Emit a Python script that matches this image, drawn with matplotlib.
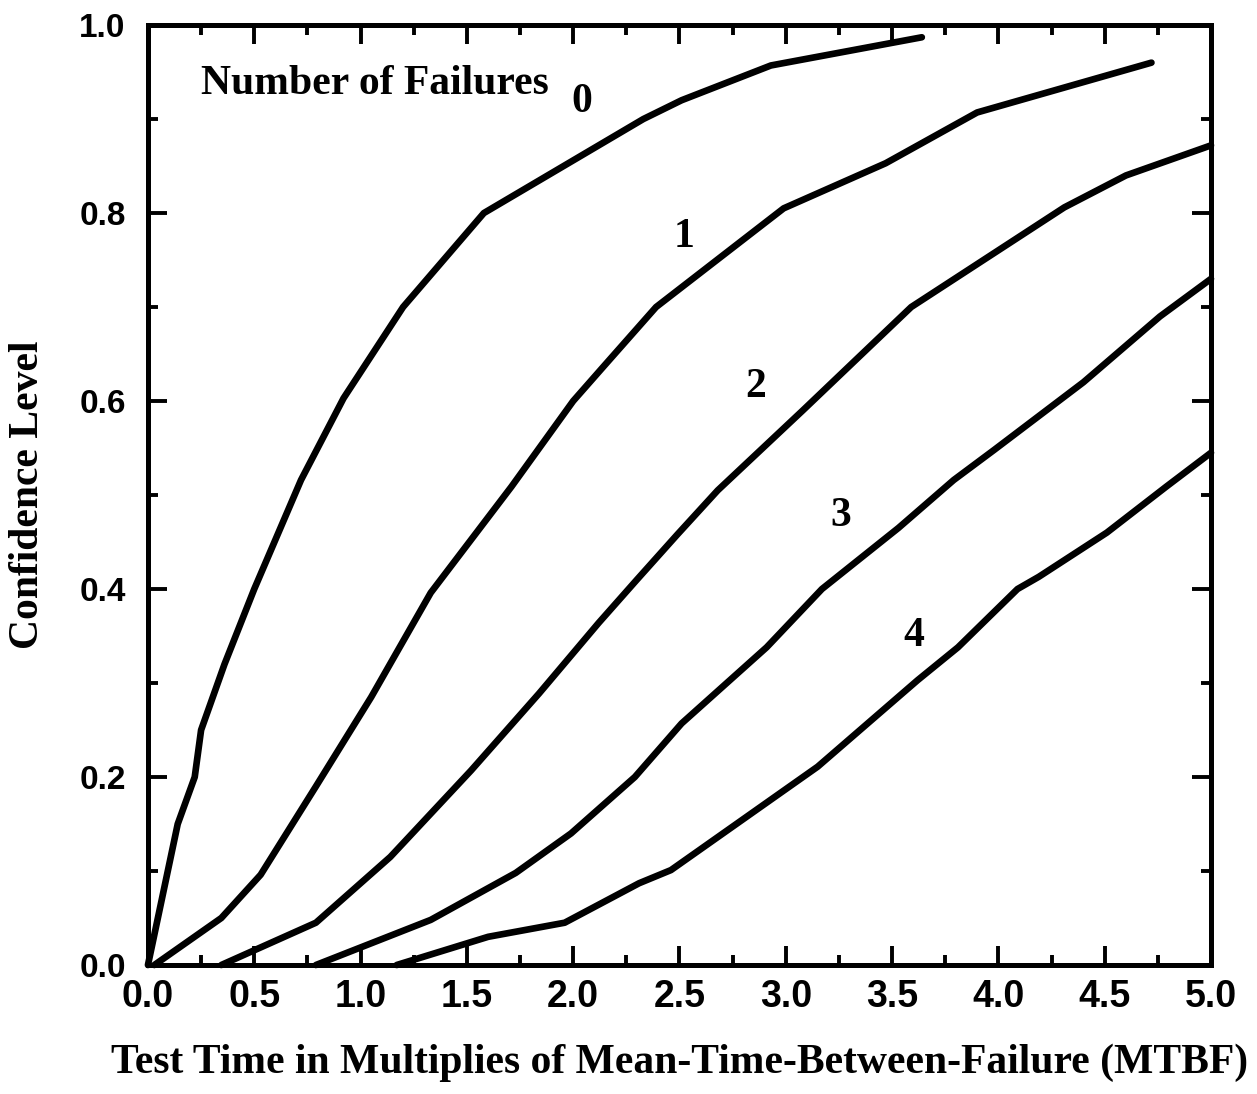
import matplotlib.pyplot as plt
from matplotlib.ticker import MultipleLocator
import numpy as np

# ─── Data ─────────────────────────────────────────────────────────────────────
# test time (multiples of MTBF) vs confidence level, one curve per failure count
t0 = [0.0, 0.14, 0.22, 0.25, 0.36, 0.50, 0.72, 0.92, 1.20, 1.58, 2.33, 2.51, 2.93, 3.64]
c0 = [0.0, 0.15, 0.20, 0.25, 0.32, 0.40, 0.516, 0.603, 0.70, 0.80, 0.90, 0.92, 0.957, 0.987]

t1 = [0.03, 0.345, 0.53, 0.79, 1.05, 1.33, 1.71, 2.00, 2.14, 2.39, 2.99, 3.47, 3.90, 4.72]
c1 = [0.0, 0.05, 0.096, 0.19, 0.285, 0.396, 0.509, 0.60, 0.636, 0.70, 0.805, 0.853, 0.907, 0.96]

t2 = [0.345, 0.79, 1.14, 1.52, 1.84, 2.12, 2.30, 2.49, 2.68, 3.08, 3.59, 4.31, 4.60, 5.0]
c2 = [0.0, 0.045, 0.115, 0.207, 0.289, 0.364, 0.41, 0.458, 0.505, 0.59, 0.70, 0.806, 0.84, 0.872]

t3 = [0.79, 1.33, 1.73, 1.99, 2.29, 2.51, 2.91, 3.17, 3.53, 3.79, 3.98, 4.40, 4.76, 5.0]
c3 = [0.0, 0.048, 0.098, 0.14, 0.20, 0.257, 0.338, 0.40, 0.465, 0.516, 0.548, 0.62, 0.69, 0.73]

t4 = [1.17, 1.60, 1.96, 2.31, 2.46, 3.15, 3.62, 3.81, 4.09, 4.19, 4.51, 4.79, 5.0]
c4 = [0.0, 0.03, 0.045, 0.087, 0.101, 0.211, 0.303, 0.338, 0.40, 0.413, 0.46, 0.509, 0.545]

curve_labels = ["0", "1", "2", "3", "4"]
label_x = [2.04, 2.52, 2.86, 3.26, 3.60]
label_y = [0.918, 0.775, 0.615, 0.478, 0.350]

x_ticks = [0.0, 0.5, 1.0, 1.5, 2.0, 2.5, 3.0, 3.5, 4.0, 4.5, 5.0]
y_ticks = [0.0, 0.2, 0.4, 0.6, 0.8, 1.0]

SERIF = "Liberation Serif"
SANS = "Liberation Sans"


# ─── Plot ─────────────────────────────────────────────────────────────────────
def plot_confidence():
    fig = plt.figure(figsize=(12.57, 10.94), dpi=100)
    ax = fig.add_axes([0.1177, 0.1179, 0.8457, 0.8592])

    for t, c in [(t0, c0), (t1, c1), (t2, c2), (t3, c3), (t4, c4)]:
        ax.plot(t, c, color="black", linewidth=4.8, solid_capstyle="round",
                solid_joinstyle="round", clip_on=False)

    for lab, lx, ly in zip(curve_labels, label_x, label_y):
        ax.text(lx, ly, lab, fontsize=30, fontfamily=SERIF, fontweight="bold",
                ha="center", va="center")

    ax.text(0.25, 0.937, "Number of Failures", fontsize=30, fontfamily=SERIF,
            fontweight="bold", ha="left", va="center")

    ax.set_xlim(0, 5)
    ax.set_ylim(0, 1)
    ax.set_xticks(x_ticks)
    ax.set_yticks(y_ticks)
    ax.set_xticklabels([f"{v:.1f}" for v in x_ticks], fontfamily=SANS,
                       fontweight="bold", fontsize=27)
    ax.set_yticklabels([f"{v:.1f}" for v in y_ticks], fontfamily=SANS,
                       fontweight="bold", fontsize=24)
    ax.xaxis.set_minor_locator(MultipleLocator(0.25))
    ax.yaxis.set_minor_locator(MultipleLocator(0.1))

    ax.tick_params(which="both", direction="in", top=True, right=True,
                   width=2.8, color="black")
    ax.tick_params(which="major", length=14)
    ax.tick_params(which="minor", length=7)
    ax.tick_params(axis="x", which="major", pad=10)
    ax.tick_params(axis="y", which="major", pad=16)

    for side in ax.spines.values():
        side.set_linewidth(3.6)

    ax.set_xlabel("Test Time in Multiplies of Mean-Time-Between-Failure (MTBF)",
                  fontsize=30, fontfamily=SERIF, fontweight="bold")
    ax.set_ylabel("Confidence Level", fontsize=30, fontfamily=SERIF,
                  fontweight="bold")
    ax.xaxis.set_label_coords(0.50, -0.083)
    ax.yaxis.set_label_coords(-0.095, 0.50)

    fig.savefig("out.png", dpi=100)


if __name__ == "__main__":
    plot_confidence()
